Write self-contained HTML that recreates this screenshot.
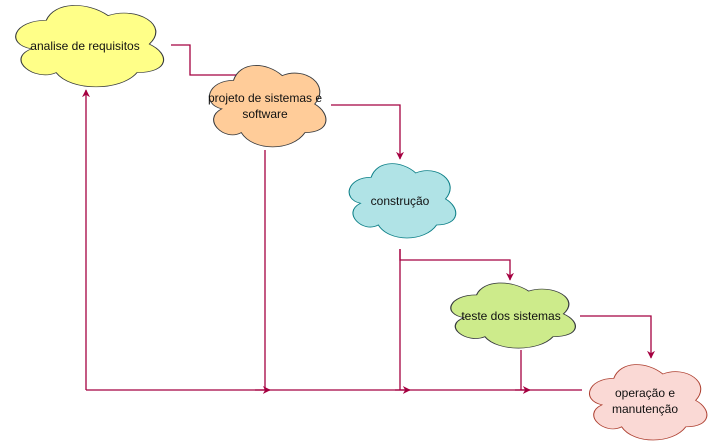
<!DOCTYPE html>
<html><head><meta charset="utf-8"><style>
html,body{margin:0;padding:0;background:#fff;}
svg{display:block;font-family:"Liberation Sans",sans-serif;}
</style></head><body>
<svg width="711" height="442" viewBox="0 0 711 442" xmlns="http://www.w3.org/2000/svg">
<defs>
<path id="cl" d="M .25 .25 C .05 .25 0 .5 .16 .55 C 0 .66 .18 .9 .31 .8 C .4 1 .7 1 .8 .8 C 1 .8 1 .6 .875 .5 C 1 .3 .8 .1 .625 .2 C .5 .05 .3 .05 .25 .25 Z"/>
<marker id="ar" viewBox="0 0 10 10" refX="9" refY="5" markerWidth="8" markerHeight="8" orient="auto" markerUnits="userSpaceOnUse"><path d="M0 0 L10 5 L0 10 L3 5 Z" fill="#a50040"/></marker>
</defs>
<g fill="none" stroke="#a50040" stroke-width="1.3">
<polyline points="171,45 190,45 190,75 245,75"/>
<polyline points="331,105 400,105 400,159" marker-end="url(#ar)"/>
<polyline points="400,249 400,260 510,260 510,280" marker-end="url(#ar)"/>
<polyline points="580,316 651,316 651,358" marker-end="url(#ar)"/>
<line x1="86" y1="390" x2="582" y2="390"/>
<line x1="86" y1="390" x2="86" y2="90" marker-end="url(#ar)"/>
<line x1="265" y1="150" x2="265" y2="390"/>
<line x1="400" y1="249" x2="400" y2="390"/>
<line x1="521" y1="350" x2="521" y2="390"/>
<line x1="255" y1="390" x2="270" y2="390" marker-end="url(#ar)"/>
<line x1="395" y1="390" x2="410" y2="390" marker-end="url(#ar)"/>
<line x1="515" y1="390" x2="530" y2="390" marker-end="url(#ar)"/>
</g>
<g stroke="#36393d" stroke-width="1">
<use href="#cl" transform="translate(5,-3.4) scale(165,95)" fill="#ffff88" stroke-width="0.007"/>
<use href="#cl" transform="translate(201,56.6) scale(130,95)" fill="#ffcc99" stroke-width="0.008"/>
<use href="#cl" transform="translate(341.4,155.6) scale(119,86.7)" fill="#b0e3e6" stroke="#0e8088" stroke-width="0.009"/>
<use href="#cl" transform="translate(441.8,275.9) scale(139,76)" fill="#cdeb8b" stroke-width="0.009"/>
<use href="#cl" transform="translate(581,356.4) scale(131,88)" fill="#fad9d5" stroke="#ae4132" stroke-width="0.008"/>
</g>
<g font-size="12" fill="#111" text-anchor="middle">
<text x="85" y="50">analise de requisitos</text>
<text x="265" y="102">projeto de sistemas e</text>
<text x="265" y="118">software</text>
<text x="400" y="205">construção</text>
<text x="511" y="320">teste dos sistemas</text>
<text x="645" y="397">operação e</text>
<text x="645" y="413">manutenção</text>
</g>
</svg>
</body></html>
